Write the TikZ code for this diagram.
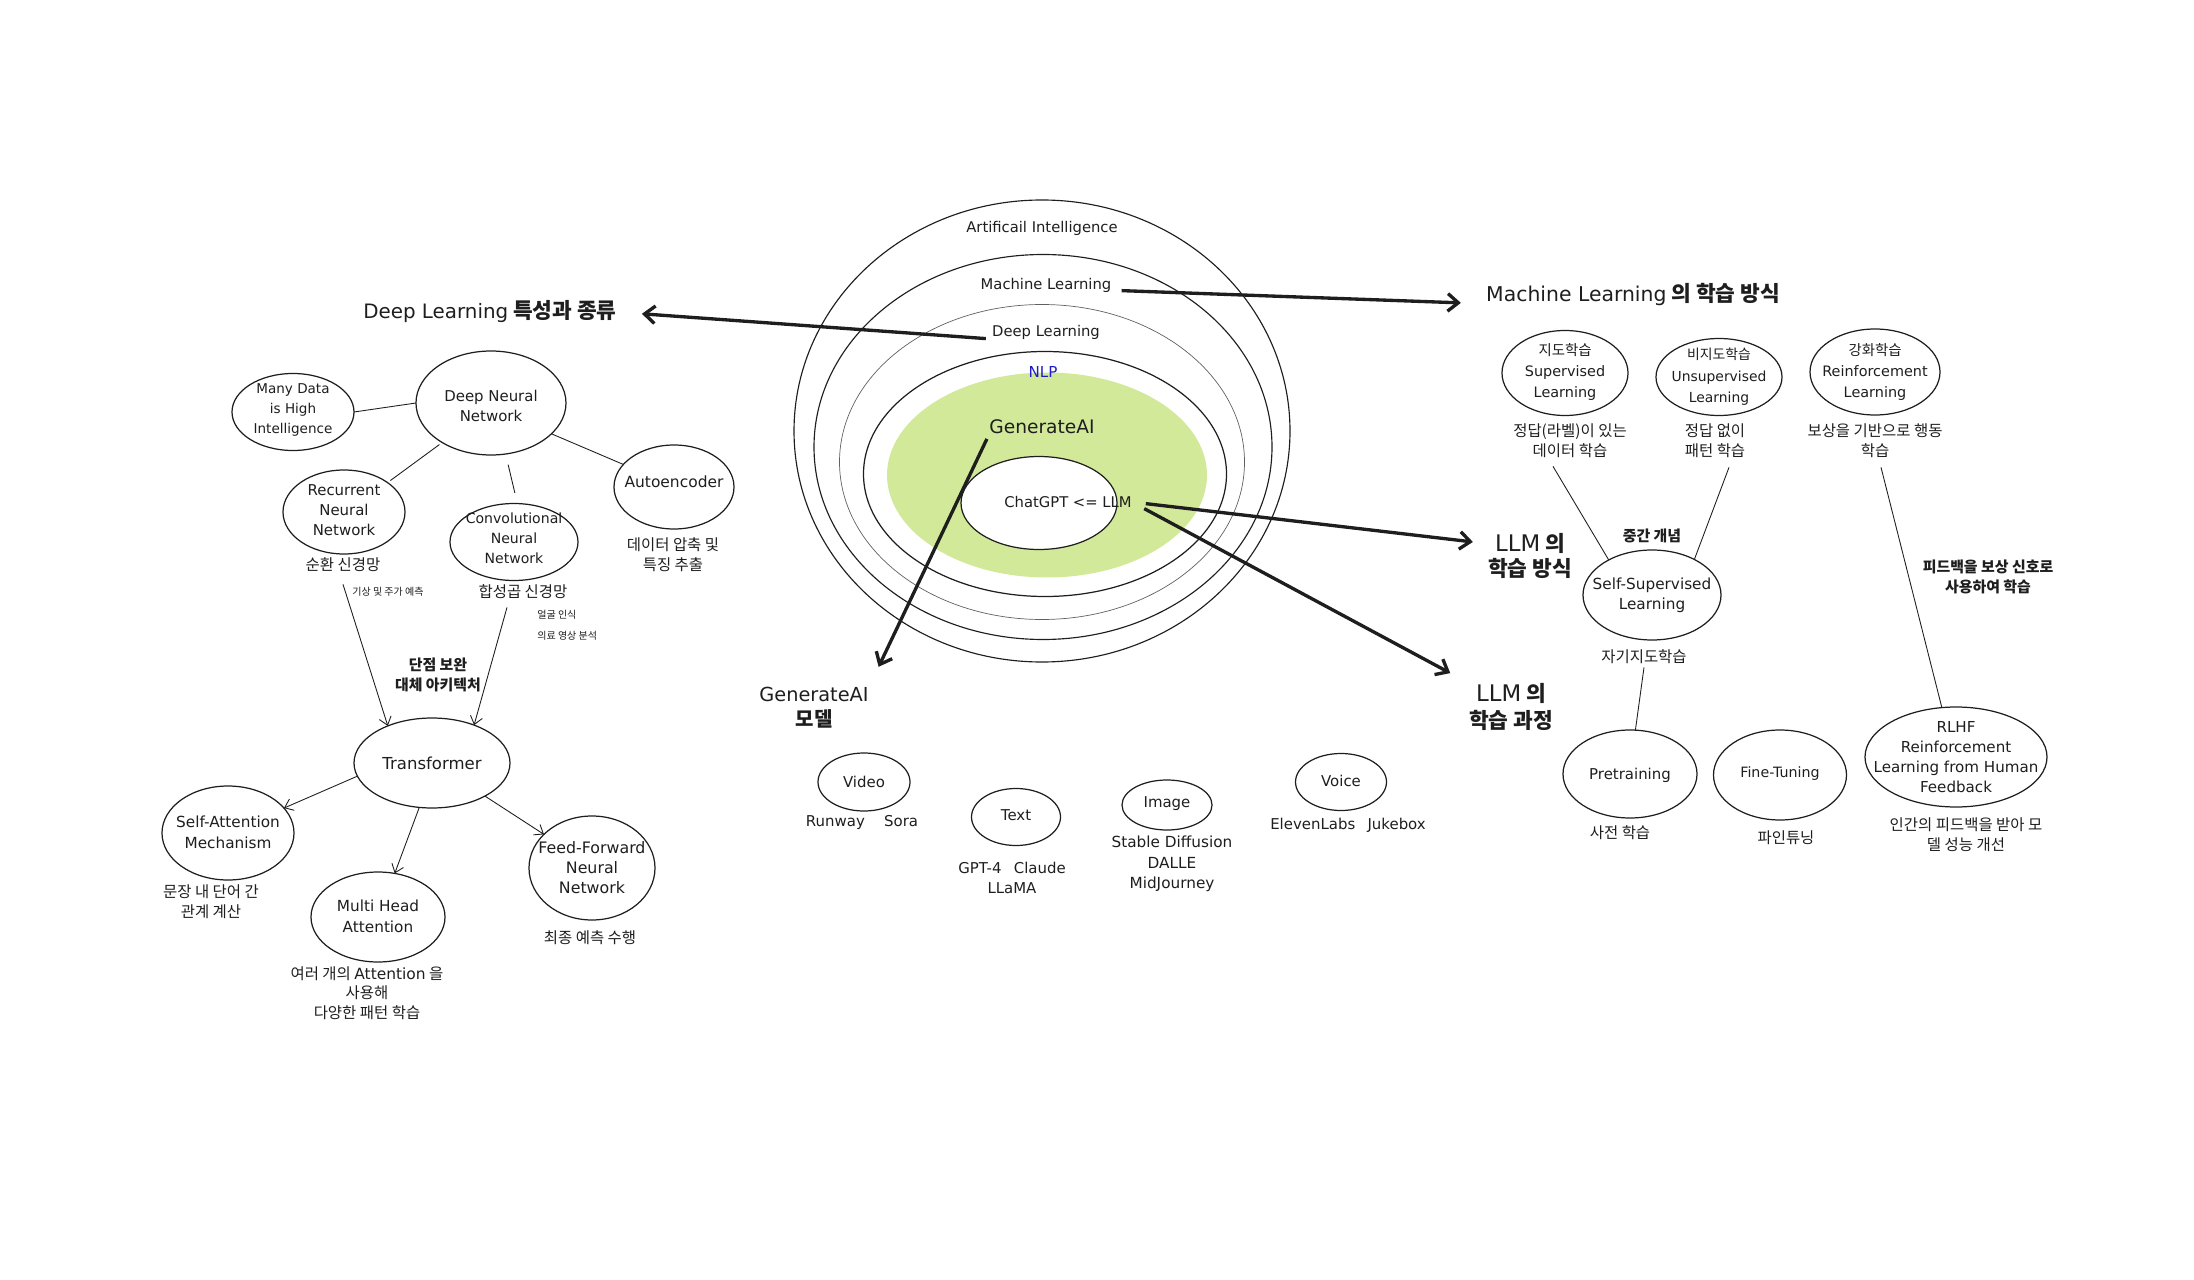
\documentclass[tikz,border=0pt]{standalone}
\usepackage{fontspec}
\setmainfont{Noto Sans CJK KR}
\newfontfamily\lat{DejaVu Sans}
\usetikzlibrary{arrows.meta,shapes.geometric}
\definecolor{ink}{HTML}{1E1E1E}
\definecolor{gfill}{HTML}{D3E99A}
\definecolor{nlpblue}{HTML}{1C1CC8}
\newcommand\fsz[2]{\fontsize{#1}{#2}\selectfont}
\newcommand\latw[1]{{\lat #1}}
\newcommand\ttlat[2]{{\lat\mdseries\fsz{#1}{14}#2}}
\begin{document}
\begin{tikzpicture}[x=0.02cm,y=-0.02cm,
  ell/.style 2 args={ellipse,draw=ink,line width=0.7pt,inner sep=0pt,outer sep=0pt,minimum width=#1*0.02cm,minimum height=#2*0.02cm},
  et/.style={align=center,inner sep=0pt,text=ink,font=\lat\fsz{8.5}{11.4}},
  kl/.style={align=center,inner sep=0pt,text=ink,font=\fsz{8.8}{11.4}},
  kb/.style={align=center,inner sep=0pt,text=ink,font=\bfseries\fsz{8.5}{11.4}},
  sm/.style={anchor=west,inner sep=0pt,text=ink,font=\fsz{5.7}{7}},
  ttl/.style={align=center,inner sep=0pt,text=ink,font=\bfseries\fsz{12.2}{14.2}},
  conn/.style={draw=ink,line width=0.5pt},
  arr/.style={conn,-{Straight Barb[length=4.5pt,width=7pt]}},
  big/.style={draw=ink,line width=1.9pt,-{Straight Barb[length=6pt,width=10pt]}},
]
\useasboundingbox (0,0) rectangle (2194,1280);

% ================= centre nest =================
\node[ell={496}{462},line width=0.65pt] (ai) at (1042,431) {};
\node[ell={458}{385},line width=0.65pt] (ml) at (1043,447) {};
\node[ell={405}{315},draw=ink!70,line width=0.4pt] (dl) at (1042,462) {};
\node[ell={363}{245}] (nlp) at (1045,474) {};
\node[ell={320}{205},draw=none,fill=gfill] (gen) at (1047,475) {};
\node[ell={156}{93},fill=white] (llm) at (1039,503) {};

\node[et,font=\lat\fsz{8.4}{10}] (aiT) at (1042,228) {Artificail Intelligence};
\node[et,font=\lat\fsz{8.4}{10}] (mlT) at (1046,285) {Machine Learning};
\node[et,font=\lat\fsz{8.4}{10}] (dlT) at (1046,332) {Deep Learning};
\node[et,text=nlpblue,font=\lat\fsz{8.6}{10}] (nlpT) at (1043,372) {NLP};
\node[et,font=\lat\fsz{10.6}{12}] (genT) at (1042,427) {GenerateAI};
\node[et,font=\lat\fsz{8.4}{10}] (chatT) at (1068,502) {ChatGPT <= LLM};

% ================= titles =================
\node[ttl] (dlTitle) at (490,312) {\ttlat{11.3}{Deep Learning} 특성과 종류};
\node[ttl,font=\bfseries\fsz{12.2}{14.2}] (mlTitle) at (1633,295) {\ttlat{11.6}{Machine Learning} 의 학습 방식};
\node[ttl,font=\bfseries\fsz{12.2}{14.4}] (llmM) at (1530,556) {\ttlat{13}{LLM} 의\\학습 방식};
\node[ttl,font=\bfseries\fsz{12.2}{15.4}] (llmP) at (1511,707) {\ttlat{13}{LLM} 의\\학습 과정};
\node[ttl,font=\bfseries\fsz{11.4}{14.2}] (genTitle) at (814,708) {\ttlat{11}{GenerateAI}\\모델};

% ================= deep learning cluster =================
\node[ell={122}{77}] (manyd) at (293,412) {};
\node[et,font=\lat\fsz{7.7}{11.4}] (manydT) at (293,410) {Many Data\\is High\\Intelligence};
\node[ell={150}{104}] (dnn) at (491,403) {};
\node[et] (dnnT) at (491,406) {Deep Neural\\Network};
\node[ell={122}{84}] (rnn) at (344,512) {};
\node[et] (rnnT) at (344,510) {Recurrent\\Neural\\Network};
\node[ell={128}{77}] (cnn) at (514,542) {};
\node[et,font=\lat\fsz{8}{11.4}] (cnnT) at (514,538) {Convolutional\\Neural\\Network};
\node[ell={120}{84}] (ae) at (674,487) {};
\node[et,font=\lat\fsz{8.8}{11.4}] (aeT) at (674,482) {Autoencoder};

\node[kl] (rnnL) at (343,565) {순환 신경망};
\node[kl] (cnnL) at (523,592) {합성곱 신경망};
\node[kl] (aeL) at (673,555) {데이터 압축 및\\특징 추출};
\node[sm] (sm1) at (352,592) {기상 및 주가 예측};
\node[sm] (sm2) at (537,615) {얼굴 인식};
\node[sm] (sm3) at (537,636) {의료 영상 분석};
\node[kb] (bridge) at (438,675) {단점 보완\\대체 아키텍처};

\node[ell={156}{90}] (trans) at (432,763) {};
\node[et,font=\lat\fsz{9.4}{11.4}] (transT) at (432,763) {Transformer};
\node[ell={132}{94}] (sa) at (228,833) {};
\node[et,font=\lat\fsz{8.7}{12}] (saT) at (228,832) {Self-Attention\\Mechanism};
\node[ell={134}{90}] (mha) at (378,917) {};
\node[et,font=\lat\fsz{8.7}{12}] (mhaT) at (378,916) {Multi Head\\Attention};
\node[ell={126}{104}] (ffnn) at (592,868) {};
\node[et,font=\lat\fsz{9}{11.4}] (ffnnT) at (592,868) {Feed-Forward\\Neural\\Network};

\node[kl] (saL) at (211,902) {문장 내 단어 간\\관계 계산};
\node[kl,font=\fsz{8.8}{11.1}] (mhaL) at (367,993) {여러 개의 \latw{Attention} 을\\사용해\\다양한 패턴 학습};
\node[kl] (ffnnL) at (590,938) {최종 예측 수행};

\draw[conn] (manyd.east) -- (dnn.west);
\draw[conn,shorten <=2pt,shorten >=2pt] (dnn.219) -- (rnn.34);
\draw[conn,shorten <=0.22cm,shorten >=0.22cm] (dnn.286) -- (cnn.85);
\draw[conn] (dnn.333) -- (ae.156);
\draw[arr] ([yshift=-0.24cm]rnnL.south) -- (trans.140);
\draw[arr] ([xshift=-0.32cm,yshift=-0.16cm]cnnL.south) -- (trans.42);
\draw[arr] (trans.190) -- (sa.24);
\draw[arr] (trans.254) -- (mha.69);
\draw[arr] (trans.328) -- (ffnn.145);

% ================= machine learning cluster =================
\node[ell={126}{85}] (sup) at (1565,373) {};
\node[kl,font=\fsz{8.2}{12.2}] (supT) at (1565,372) {지도학습\\\latw{Supervised}\\\latw{Learning}};
\node[ell={126}{77}] (unsup) at (1719,377) {};
\node[kl,font=\fsz{7.9}{12.2}] (unsupT) at (1719,377) {비지도학습\\\latw{Unsupervised}\\\latw{Learning}};
\node[ell={130}{86}] (rl) at (1875,372) {};
\node[kl,font=\fsz{8.2}{12.2}] (rlT) at (1875,372) {강화학습\\\latw{Reinforcement}\\\latw{Learning}};

\node[kl] (supL) at (1570,441) {정답(라벨)이 있는\\데이터 학습};
\node[kl] (unsupL) at (1715,441) {정답 없이\\패턴 학습};
\node[kl] (rlL) at (1875,441) {보상을 기반으로 행동\\학습};

\node[kb] (midL) at (1652,536) {중간 개념};
\node[kb] (fbL) at (1988,577) {피드백을 보상 신호로\\사용하여 학습};

\node[ell={138}{90}] (ssl) at (1652,595) {};
\node[et,font=\lat\fsz{8.7}{11.4}] (sslT) at (1652,595) {Self-Supervised\\Learning};
\node[kl] (sslL) at (1644,657) {자기지도학습};

\node[ell={134}{88}] (pre) at (1630,774) {};
\node[et] (preT) at (1630,775) {Pretraining};
\node[ell={133}{90}] (ft) at (1780,775) {};
\node[et,font=\lat\fsz{8.1}{11.4}] (ftT) at (1780,774) {Fine-Tuning};
\node[ell={182}{100}] (rlhf) at (1956,757) {};
\node[et,font=\lat\fsz{8.6}{11.4}] (rlhfT) at (1956,757) {RLHF\\Reinforcement\\Learning from Human\\Feedback};

\node[kl] (preL) at (1620,833) {사전 학습};
\node[kl] (ftL) at (1786,838) {파인튜닝};
\node[kl] (rlhfL) at (1966,835) {인간의 피드백을 받아 모\\델 성능 개선};

\draw[conn] ([xshift=-0.34cm,yshift=-0.16cm]supL.south) -- (ssl.141);
\draw[conn] ([xshift=0.28cm,yshift=-0.18cm]unsupL.south) -- (ssl.40);
\draw[conn] ([xshift=0.12cm,yshift=-0.18cm]rlL.south) -- (rlhf.106);
\draw[conn] ([yshift=-0.06cm]sslL.south) -- (pre.83);

% ================= generative AI models =================
\node[ell={92}{58}] (video) at (864,782) {};
\node[et] (videoT) at (864,782) {Video};
\node[ell={89}{57}] (textm) at (1016,817) {};
\node[et] (textmT) at (1016,815) {Text};
\node[ell={90}{50}] (image) at (1167,805) {};
\node[et] (imageT) at (1167,804) {Image};
\node[ell={91}{57}] (voice) at (1341,782) {};
\node[et] (voiceT) at (1341,781) {Voice};

\node[et] (videoL) at (862,823) {Runway\hspace{11pt}Sora};
\node[et,font=\lat\fsz{8.5}{11.4}] (textmL) at (1012,878) {GPT-4\hspace{7pt}Claude\\LLaMA};
\node[et,font=\lat\fsz{8.7}{11.7}] (imageL) at (1172,864) {Stable Diffusion\\DALLE\\MidJourney};
\node[et] (voiceL) at (1348,825) {ElevenLabs\hspace{7pt}Jukebox};

% ================= thick arrows =================
\draw[big,shorten <=0.2cm,shorten >=0.5cm] ([yshift=-3pt]mlT.east) -- ([yshift=-5pt]mlTitle.west);
\draw[big,shorten <=0.12cm,shorten >=0.5cm] ([yshift=-4pt]dlT.west) -- (dlTitle.east);
\draw[big,shorten <=0.1cm,shorten >=0.45cm] (genT.south west) -- (genTitle.north east);
\draw[big,shorten <=0.28cm,shorten >=0.3cm] (chatT.east) -- ([yshift=7pt]llmM.west);
\draw[big,shorten <=0.28cm,shorten >=0.42cm] (chatT.east) -- (llmP.north west);
\end{tikzpicture}
\end{document}
